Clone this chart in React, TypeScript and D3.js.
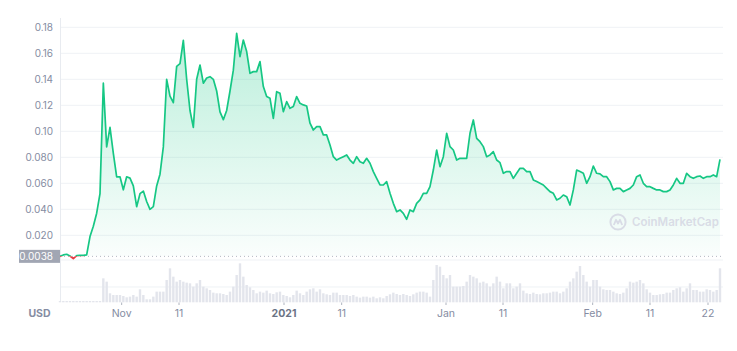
import React from 'react';
import * as d3 from 'd3';

// price readings, evenly spaced across the chart (one every ~0.58 day)
const prices = [
  0.0038, 0.0049, 0.0054, 0.0041, 0.002, 0.0043, 0.0046, 0.0046, 0.0049, 0.019,
  0.027, 0.037, 0.052, 0.137, 0.088, 0.103, 0.083, 0.065, 0.065, 0.055,
  0.065, 0.064, 0.058, 0.042, 0.052, 0.054, 0.046, 0.04, 0.042, 0.058,
  0.067, 0.088, 0.14, 0.127, 0.122, 0.15, 0.152, 0.17, 0.14, 0.116,
  0.103, 0.14, 0.151, 0.137, 0.141, 0.142, 0.14, 0.131, 0.115, 0.109,
  0.116, 0.131, 0.147,
  0.1754, 0.1574, 0.1702, 0.1613, 0.1446, 0.1459, 0.1459, 0.1536, 0.1344, 0.1267,
  0.1254, 0.11, 0.1305, 0.1292, 0.1151, 0.1228, 0.1177, 0.119, 0.1267, 0.1215,
  0.1203, 0.1195, 0.1062, 0.101, 0.1036, 0.1036, 0.0972, 0.0972, 0.0895, 0.0805,
  0.0779, 0.0792, 0.0805, 0.0818, 0.0779, 0.0754, 0.0805, 0.0766, 0.0754, 0.0792,
  0.0754, 0.069, 0.0638, 0.0587, 0.0587, 0.0613, 0.0523, 0.0446, 0.0382, 0.0395,
  0.0369, 0.0323, 0.0395,
  0.0382, 0.0446, 0.0472, 0.0523, 0.0523, 0.0574, 0.0702, 0.0856, 0.0728, 0.0805,
  0.0985, 0.0882, 0.0856, 0.0779, 0.0792, 0.0792, 0.0792, 0.0985, 0.1087, 0.0946,
  0.092, 0.0882, 0.0805, 0.0818, 0.0843, 0.0779, 0.0759, 0.0677, 0.069, 0.069,
  0.0638, 0.0677, 0.0715, 0.0715, 0.069, 0.069, 0.0626, 0.0613, 0.06, 0.0587,
  0.0561, 0.0536, 0.0523, 0.0472, 0.0485, 0.051, 0.0497, 0.0433, 0.0549, 0.0702,
  0.069, 0.0677,
  0.06, 0.0651, 0.0733, 0.0677, 0.0672, 0.0651, 0.0651, 0.0613, 0.0549, 0.0561,
  0.0561, 0.0536, 0.0549, 0.0561, 0.0587, 0.0651, 0.0664, 0.06, 0.0574, 0.0574,
  0.0561, 0.0549, 0.0549, 0.0536, 0.0536, 0.0549, 0.0587, 0.0638, 0.06, 0.06,
  0.0677, 0.0651, 0.0638, 0.0651, 0.0656, 0.0638, 0.0651, 0.0651, 0.0664, 0.0651,
  0.0784,
];

// relative volume for the same points
const volumes = [
  4, 4, 4, 4, 4, 4, 4, 4, 4, 4, 4, 4, 4, 72, 62, 27, 22, 22, 22, 19,
  15, 17, 22, 17, 39, 22, 9, 9, 17, 32, 32, 32, 67, 102, 77, 62, 67, 62, 59, 57,
  47, 57, 67, 47, 42, 37, 29, 27, 27, 25, 22, 32, 47, 82, 117, 77, 52, 45, 37, 27,
  32, 29, 35, 27, 25, 30, 32, 22, 19, 15, 22, 35, 27, 22, 32, 39, 42, 32, 39, 27,
  24, 22, 29, 29, 22, 22, 22, 19, 22, 17, 14, 17, 17, 14, 17, 12, 15, 12, 19, 24,
  29, 25, 22, 25, 22, 19, 24, 29, 32, 32, 29, 17, 67, 112, 107, 82, 72, 82, 47, 47,
  47, 49, 62, 82, 77, 72, 59, 62, 57, 47, 57, 77, 62, 42, 57, 57, 42, 47, 57, 35,
  27, 25, 29, 25, 24, 27, 27, 29, 32, 32, 27, 32, 42, 62, 72, 92, 109, 82, 62, 47,
  67, 67, 47, 39, 37, 37, 32, 27, 25, 29, 42, 62, 59, 62, 67, 57, 39, 29, 22, 22,
  24, 25, 29, 29, 37, 42, 45, 32, 42, 57, 37, 37, 32, 32, 39, 37, 32, 37, 102,
];

const openPrice = 0.0038;
const yTicks = [0.02, 0.04, 0.06, 0.08, 0.1, 0.12, 0.14, 0.16, 0.18];
const yTickLabels = ['0.020', '0.040', '0.060', '0.080', '0.10', '0.12', '0.14', '0.16', '0.18'];
// tick positions in point-index units
const xTickAt = [18.5, 35.7, 67.2, 84.5, 115.8, 132.9, 159.8, 177, 194.4];
const xTickLabels = ['Nov', '11', '2021', '11', 'Jan', '11', 'Feb', '11', '22'];

const GREEN = '#16c784';
const RED = '#ea3943';
const GREY = '#858ca2';
const GRID = '#eff2f5';
const MARK = '#d9dce6';
const FONT = 'Inter, "Noto Sans", sans-serif';

export default function App() {
  const x = d3.scaleLinear().domain([0, prices.length - 1]).range([60, 720]);
  const y = d3.scaleLinear().domain([0, 0.18]).range([261.3, 27.3]);
  const v = d3.scaleLinear().domain([0, 127]).range([302.3, 260]);
  const plotRight = x(prices.length - 0.1);
  const baseY = y(openPrice);

  const line = d3.line<number>().x((_, i) => x(i)).y(d => y(d));
  const area = d3.area<number>().x((_, i) => x(i)).y0(baseY).y1(d => y(d));

  return (
    <svg width={737} height={351} style={{ position: 'absolute', left: 0, top: 0, background: '#fff' }} fontFamily={FONT}>
      <defs>
        <linearGradient id="fillGrad" gradientUnits="userSpaceOnUse" x1="0" y1={y(0.18)} x2="0" y2={baseY}>
          <stop offset="0" stopColor={GREEN} stopOpacity={0.3} />
          <stop offset="1" stopColor={GREEN} stopOpacity={0.02} />
        </linearGradient>
        <clipPath id="above"><rect x={0} y={0} width={737} height={baseY} /></clipPath>
        <clipPath id="below"><rect x={0} y={baseY} width={737} height={351 - baseY} /></clipPath>
      </defs>

      {yTicks.map(t => (
        <line key={t} x1={60} x2={plotRight} y1={y(t)} y2={y(t)} stroke={GRID} />
      ))}
      <line x1={60} x2={plotRight} y1={v(127)} y2={v(127)} stroke={GRID} />
      <line x1={60} x2={plotRight} y1={v(46)} y2={v(46)} stroke={GRID} />
      <line x1={60.5} x2={60.5} y1={18} y2={302} stroke="#e8ebf0" />

      {yTicks.map((t, i) => (
        <text key={t} x={53} y={y(t)} dy="0.35em" textAnchor="end" fontSize={10} fill={GREY}>{yTickLabels[i]}</text>
      ))}

      {volumes.map((d, i) => (
        <rect key={i} x={x(i) - 1.2} width={2.4} y={v(d)} height={v(0) - v(d)} fill="#e3e5ec" />
      ))}

      <path d={area(prices) || ''} fill="url(#fillGrad)" clipPath="url(#above)" />
      <line x1={60} x2={plotRight} y1={baseY} y2={baseY} stroke="#b3b7c1" strokeDasharray="1 3" />
      <path d={line(prices) || ''} fill="none" stroke={GREEN} strokeWidth={1.7} strokeLinejoin="round" clipPath="url(#above)" />
      <path d={line(prices) || ''} fill="none" stroke={RED} strokeWidth={1.7} strokeLinejoin="round" clipPath="url(#below)" />

      <rect x={19} y={baseY - 6.5} width={41} height={13} fill="#a1a6b3" />
      <text x={53} y={baseY} dy="0.35em" textAnchor="end" fontSize={10} fill="#fff">0.0038</text>

      {xTickAt.map((t, i) => (
        <g key={i}>
          <line x1={x(t)} x2={x(t)} y1={302.5} y2={305} stroke="#aeb3be" />
          <text x={x(t)} y={317} textAnchor="middle" fontSize={10.5}
            fill={xTickLabels[i] === '2021' ? '#6b7386' : GREY}
            fontWeight={xTickLabels[i] === '2021' ? 700 : 400}>{xTickLabels[i]}</text>
        </g>
      ))}
      <text x={39.5} y={317} textAnchor="middle" fontSize={10.5} fontWeight={700} fill={GREY}>USD</text>

      <g>
        <circle cx={618} cy={222} r={7.6} fill="none" stroke={MARK} strokeWidth={2} />
        <path d="M613.8 225 L616 219.8 L618 223.5 L620 219.8 L622.2 225" fill="none" stroke={MARK} strokeWidth={1.8} strokeLinejoin="round" />
        <text x={632} y={226} fontSize={11.5} fontWeight={600} fill={MARK}>CoinMarketCap</text>
      </g>
    </svg>
  );
}
